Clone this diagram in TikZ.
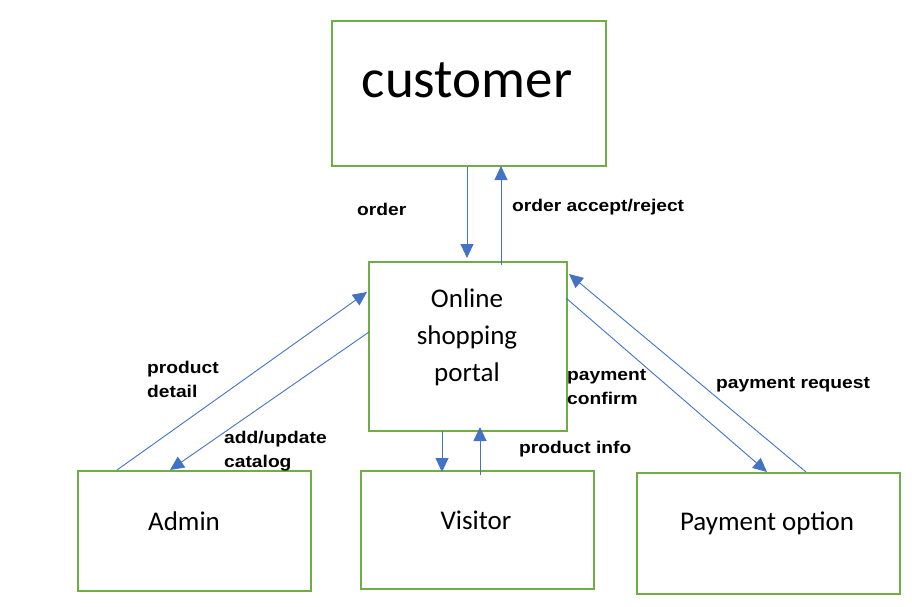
\documentclass[tikz,border=0pt]{standalone}
\usepackage{fontspec}
\setmainfont{Carlito}
\newfontfamily\lblfont{Liberation Sans}
\usetikzlibrary{arrows.meta}
\definecolor{boxgreen}{HTML}{70AD47}
\definecolor{arrblue}{HTML}{4472C4}
\begin{document}
\begin{tikzpicture}[x=1pt,y=-1pt,
  box/.style={draw=boxgreen,line width=2pt,anchor=north west,inner sep=0pt},
  flow/.style={draw=arrblue,line width=0.9pt,-{Triangle[length=14pt,width=13pt]}},
  lbl/.style={font=\lblfont\bfseries\fontsize{17}{24}\selectfont,anchor=base west,inner sep=0pt,align=left,xscale=1.13}
]
\useasboundingbox (0,0) rectangle (912,607);
% boxes
\node[box,minimum width=274pt,minimum height=145pt] (cust) at (331,20) {};
\node[font=\fontsize{55}{60}\selectfont,anchor=base] at (467,98) {customer};
\node[box,minimum width=198pt,minimum height=169pt] (portal) at (368,261) {};
\node[font=\fontsize{27}{37}\selectfont,align=center] at (467,337) {Online\\shopping\\portal};
\node[box,minimum width=233pt,minimum height=120pt] (admin) at (77,470) {};
\node[font=\fontsize{27}{32}\selectfont] at (184,521) {Admin};
\node[box,minimum width=233pt,minimum height=118pt] (visitor) at (360,470) {};
\node[font=\fontsize{27}{32}\selectfont] at (476,520) {Visitor};
\node[box,minimum width=263pt,minimum height=121pt] (pay) at (636,472) {};
\node[font=\fontsize{27}{32}\selectfont] at (767,523) {Payment option};
% connector endpoints
\coordinate (a1) at (467,167); \coordinate (a2) at (467,258);
\coordinate (b1) at (501,265); \coordinate (b2) at (501,166);
\coordinate (c1) at (117,470); \coordinate (c2) at (367,292);
\coordinate (d1) at (369,332); \coordinate (d2) at (170,470);
\coordinate (e1) at (442,431); \coordinate (e2) at (442,472);
\coordinate (f1) at (480,475); \coordinate (f2) at (480,427);
\coordinate (g1) at (566,298); \coordinate (g2) at (767,472);
\coordinate (h1) at (806,472); \coordinate (h2) at (569,274);
\draw[flow] (a1) -- (a2);
\draw[flow] (b1) -- (b2);
\draw[flow] (c1) -- (c2);
\draw[flow] (d1) -- (d2);
\draw[flow] (e1) -- (e2);
\draw[flow] (f1) -- (f2);
\draw[flow] (g1) -- (g2);
\draw[flow] (h1) -- (h2);
% labels
\node[lbl] (l1) at (357,215) {order};
\node[lbl] (l2) at (512,211) {order accept/reject};
\node[lbl] (l3) at (147,397) {product\\detail};
\node[lbl] (l4) at (224,467) {add/update\\catalog};
\node[lbl] (l5) at (519,453) {product info};
\node[lbl] (l6) at (567,404) {payment\\confirm};
\node[lbl] (l7) at (716,388) {payment request};
\end{tikzpicture}
\end{document}
